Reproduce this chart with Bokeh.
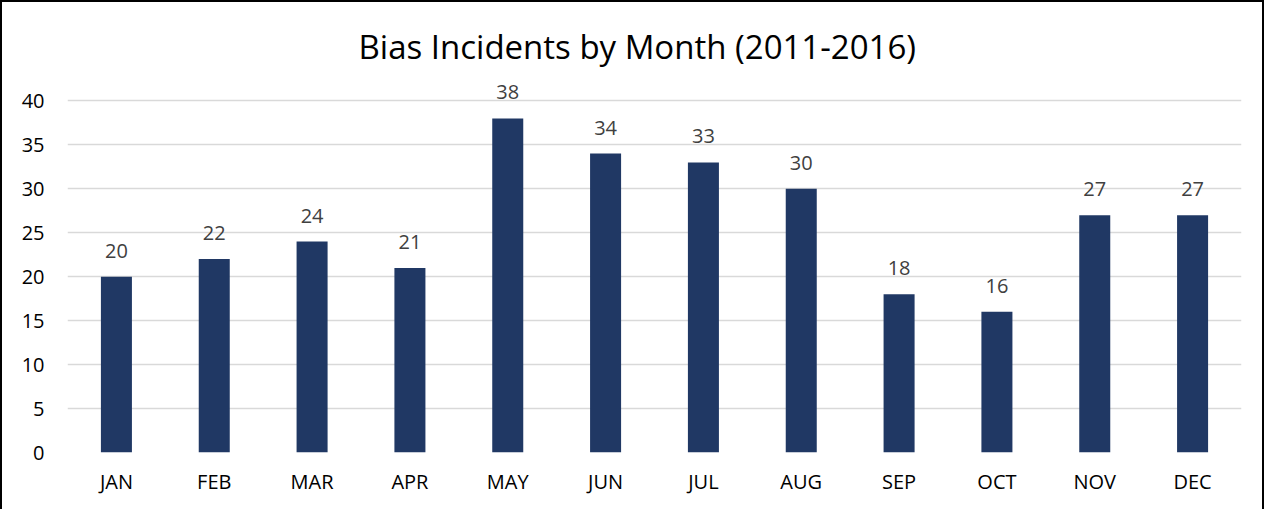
from bokeh.plotting import figure
from bokeh.models import Range1d, FixedTicker, ColumnDataSource
from bokeh.core.properties import value
from bokeh.embed import file_html
from bokeh.resources import INLINE

months = ["JAN", "FEB", "MAR", "APR", "MAY", "JUN", "JUL", "AUG", "SEP", "OCT", "NOV", "DEC"]
counts = [20, 22, 24, 21, 38, 34, 33, 30, 18, 16, 27, 27]
y_ticks = [0, 5, 10, 15, 20, 25, 30, 35, 40]
title_text = "Bias Incidents by Month (2011-2016)"

src = ColumnDataSource(dict(m=months, v=counts, t=[str(c) for c in counts]))

p = figure(x_range=months, y_range=Range1d(0, 43), width=1264, height=509,
           output_backend="svg", toolbar_location=None,
           min_border_left=65, min_border_right=25, min_border_top=72, min_border_bottom=59,
           title=title_text)
p.styles = {"border-left": "2px solid black", "border-top": "2px solid black",
            "border-right": "2px solid black"}

p.title.align = "left"
p.title.text_font = "Open Sans"
p.title.text_font_size = "33px"
p.title.text_font_style = "normal"
p.title.text_color = "#000000"
p.title.standoff = 12
p.title.offset = 291

p.vbar(x="m", top="v", width=0.317, source=src, fill_color="#203864", line_color=None)
p.text(x="m", y="v", text="t", source=src, text_align="center", text_baseline="alphabetic",
       y_offset=-26, text_font=value("Open Sans"), text_font_size="20px", text_color="#404040")

p.outline_line_color = None
p.xgrid.grid_line_color = None
p.ygrid.grid_line_color = "#d9d9d9"
p.ygrid.grid_line_width = 1.4
p.yaxis.ticker = FixedTicker(ticks=y_ticks)

for ax in (p.xaxis[0], p.yaxis[0]):
    ax.axis_line_color = None
    ax.major_tick_line_color = None
    ax.minor_tick_line_color = None
    ax.major_tick_out = 0
    ax.major_tick_in = 0
    ax.major_label_text_font = "Open Sans"
    ax.major_label_text_font_size = "20px"
    ax.major_label_text_color = "#000000"
p.yaxis.major_label_standoff = 23
p.xaxis.major_label_standoff = 15

open("out.html", "w").write(file_html(p, INLINE))
